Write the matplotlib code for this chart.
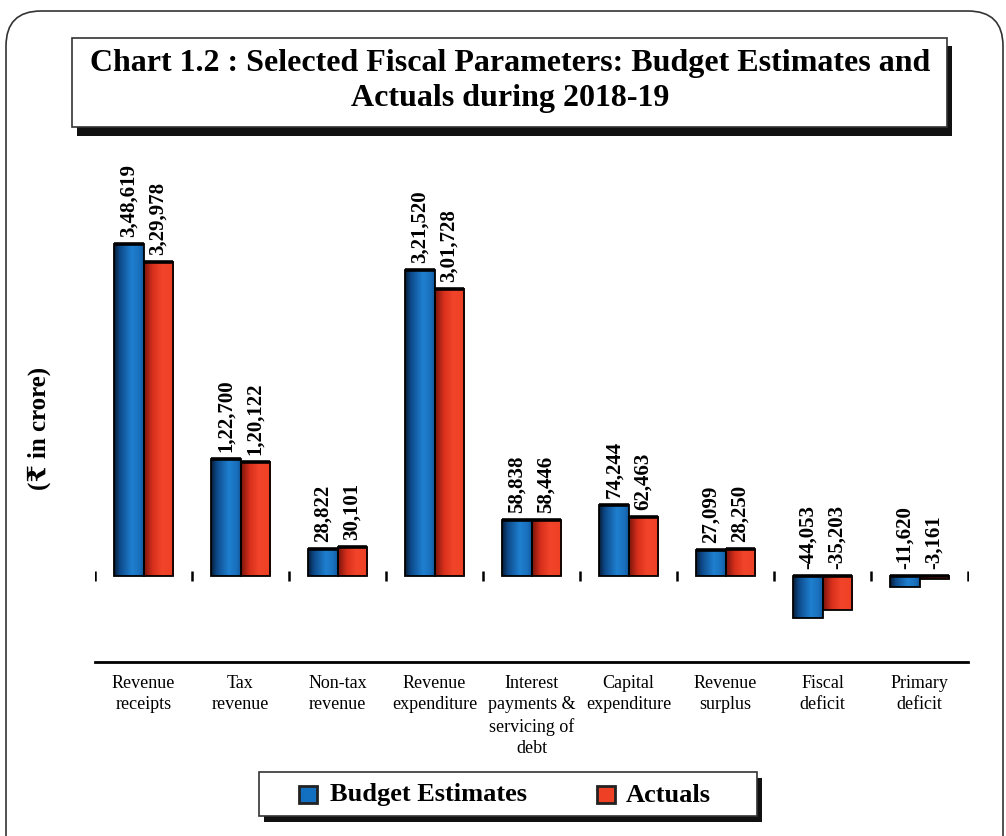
import matplotlib.pyplot as plt
import numpy as np
from matplotlib.patches import Rectangle, FancyBboxPatch
from matplotlib.colors import LinearSegmentedColormap

categories = ['Revenue\nreceipts', 'Tax\nrevenue', 'Non-tax\nrevenue', 'Revenue\nexpenditure',
              'Interest\npayments &\nservicing of\ndebt', 'Capital\nexpenditure', 'Revenue\nsurplus',
              'Fiscal\ndeficit', 'Primary\ndeficit']
budget = [348619, 122700, 28822, 321520, 58838, 74244, 27099, -44053, -11620]
actuals = [329978, 120122, 30101, 301728, 58446, 62463, 28250, -35203, -3161]
series_names = ['Budget Estimates', 'Actuals']

W, H = 1006, 836
serif = ['Liberation Serif', 'DejaVu Serif', 'DejaVu Sans']
plt.rcParams['font.family'] = serif

blue_cm = LinearSegmentedColormap.from_list('b', [(0, '#061c36'), (0.2, '#0d4a8a'), (0.6, '#1f80d0'),
                                                   (0.85, '#1a70bd'), (1, '#11579a')])
red_cm = LinearSegmentedColormap.from_list('r', [(0, '#7a140c'), (0.3, '#d8301c'), (0.6, '#f2442a'),
                                                  (1, '#ee4024')])


def fmt_in(v):
    # indian digit grouping: 3,48,619
    s = str(abs(v))
    if len(s) > 3:
        head, tail = s[:-3], s[-3:]
        parts = []
        while len(head) > 2:
            parts.insert(0, head[-2:])
            head = head[:-2]
        if head:
            parts.insert(0, head)
        s = ','.join(parts + [tail])
    return ('-' if v < 0 else '') + s


def px_rect(x0, y0, x1, y1, **kw):
    return Rectangle((x0 / W, 1 - y1 / H), (x1 - x0) / W, (y1 - y0) / H,
                     transform=fig.transFigure, **kw)


fig = plt.figure(figsize=(W / 100, H / 100), dpi=100)
ax = fig.add_axes([95 / W, 1 - 662 / H, (968 - 95) / W, (662 - 150) / H])

n = len(categories)
x = np.arange(n) + 0.5
w = 0.3

for vals, cm, off in [(budget, blue_cm, -w / 2), (actuals, red_cm, w / 2)]:
    bars = ax.bar(x + off, vals, w, facecolor='none', edgecolor='k', lw=1.3, zorder=3)
    grad = np.linspace(0, 1, 256).reshape(1, -1)
    for r, v in zip(bars, vals):
        x0 = r.get_x()
        ax.imshow(grad, cmap=cm, extent=[x0, x0 + w, min(0, v), max(0, v)],
                  aspect='auto', zorder=2)
        ax.plot([x0, x0 + w], [max(0, v)] * 2, color='k', lw=2.6, zorder=4, solid_capstyle='butt')
        ax.annotate(fmt_in(v), (x0 + w / 2, max(0, v)), xytext=(0, 5), textcoords='offset points',
                    rotation=90, ha='center', va='bottom', fontsize=15, fontweight='bold')

ax.plot(np.arange(n + 1), np.zeros(n + 1), ls='none', marker='|', ms=7, mew=1.8, color='k')

ax.set_xlim(0, n)
ax.set_ylim(-90300, 447300)
ax.set_xticks(x)
ax.set_xticklabels(categories, fontsize=13, linespacing=1.35)
ax.tick_params(axis='x', length=0, pad=9)
ax.set_yticks([])
for s in ['top', 'left', 'right']:
    ax.spines[s].set_visible(False)
ax.spines['bottom'].set_linewidth(2)

fig.text(39 / W, 1 - 428 / H, '(₹ in crore)', rotation=90, ha='center', va='center',
         fontsize=18, fontweight='bold')

# outer rounded border
fig.patches.append(FancyBboxPatch((0.06, -0.5), 9.97, 8.75, boxstyle='round,pad=0,rounding_size=0.35',
                                  transform=fig.dpi_scale_trans, fill=False, ec='#333333', lw=1.2))

# title box with shadow
fig.patches.append(px_rect(77, 46, 952, 136, fc='#111111', ec='none'))
fig.patches.append(px_rect(72, 38, 947, 127, fc='white', ec='#333333', lw=1.2))
fig.text(510 / W, 1 - 81 / H, 'Chart 1.2 : Selected Fiscal Parameters: Budget Estimates and\nActuals during 2018-19',
         ha='center', va='center', fontsize=23, fontweight='bold', linespacing=1.3)

# legend box with shadow
fig.patches.append(px_rect(264, 778, 762, 822, fc='#111111', ec='none'))
fig.patches.append(px_rect(259, 772, 757, 816, fc='white', ec='#333333', lw=1.2))
for (mx, tx), name, c in zip([(299, 330), (597, 626)], series_names, ['#1370c0', '#ee4024']):
    fig.patches.append(px_rect(mx, 786, mx + 18, 803, fc=c, ec='#222222', lw=2))
    fig.text(tx / W, 1 - 795 / H, name, ha='left', va='center', fontsize=19, fontweight='bold')

fig.savefig('out.png', dpi=100)
